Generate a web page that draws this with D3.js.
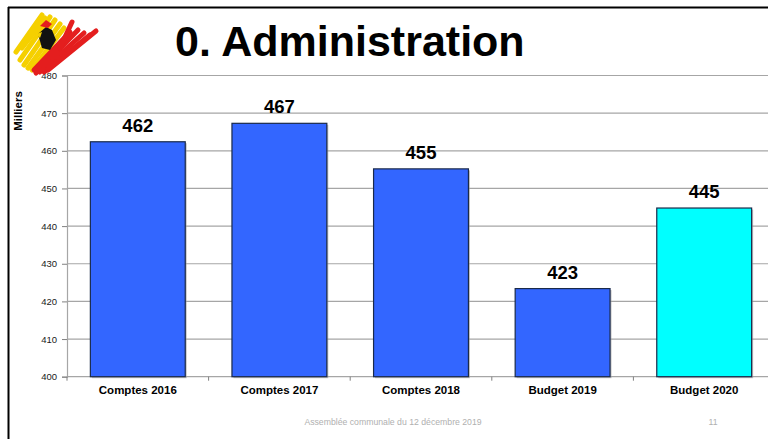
<!DOCTYPE html>
<html><head><meta charset="utf-8">
<script src="https://cdn.jsdelivr.net/npm/d3@7"></script>
<style>body{margin:0;background:#fff;}svg{display:block;font-family:Arial,"Liberation Sans",sans-serif;}</style>
</head><body>
<svg id="c" width="768" height="439"></svg>
<script>
const categories = ["Comptes 2016","Comptes 2017","Comptes 2018","Budget 2019","Budget 2020"];
const values = [462.4, 467.3, 455.2, 423.4, 444.8];
const valueLabels = ["462","467","455","423","445"];
const barColors = ["#3366FF","#3366FF","#3366FF","#3366FF","#00FFFF"];
const yTicks = [400,410,420,430,440,450,460,470,480];

(function(){
const svg = d3.select("#c");
// frame
svg.append("line").attr("x1",8).attr("x2",768).attr("y1",7.5).attr("y2",7.5).attr("stroke","#000").attr("stroke-width",2);
svg.append("line").attr("x1",8.5).attr("x2",8.5).attr("y1",7).attr("y2",439).attr("stroke","#000").attr("stroke-width",2);

const mLeft = 67, mTop = 75.5, mBottom = 376.7, mRight = 775;
const x = d3.scaleBand().domain(categories).range([mLeft,mRight]).paddingInner(0.33).paddingOuter(0.165);
const xb = d3.scaleBand().domain(categories).range([mLeft,mRight]);
const y = d3.scaleLinear().domain([400,480]).range([mBottom,mTop]);

// gridlines
svg.append("g").selectAll("line").data(yTicks.slice(1)).join("line")
  .attr("x1",mLeft).attr("x2",768).attr("y1",d=>y(d)).attr("y2",d=>y(d))
  .attr("stroke","#a6a6a6").attr("stroke-width",1.2);

// y axis
const ya = svg.append("g").attr("transform",`translate(${mLeft},0)`)
  .call(d3.axisLeft(y).tickValues(yTicks).tickSize(5).tickPadding(5));
ya.select(".domain").attr("stroke","#a6a6a6").attr("stroke-width",1.2);
ya.selectAll(".tick line").attr("stroke","#808080");
ya.selectAll("text").attr("font-size",9.5).attr("fill","#1a1a1a").attr("font-family","Arial,'Liberation Sans',sans-serif");

// x axis
svg.append("line").attr("x1",mLeft).attr("x2",768).attr("y1",mBottom).attr("y2",mBottom).attr("stroke","#a6a6a6").attr("stroke-width",1.2);
svg.append("g").selectAll("line").data(categories).join("line")
  .attr("x1",d=>xb(d)).attr("x2",d=>xb(d)).attr("y1",mBottom).attr("y2",mBottom+4).attr("stroke","#808080");

// bars (shadow + bar)
svg.append("g").selectAll("rect").data(categories).join("rect")
  .attr("x",d=>x(d)+1.5).attr("y",(d,i)=>y(values[i])+1.5).attr("width",x.bandwidth()).attr("height",(d,i)=>mBottom-y(values[i]))
  .attr("fill","#9a9a9a").attr("opacity",0.6);
svg.append("g").selectAll("rect").data(categories).join("rect")
  .attr("x",d=>x(d)).attr("y",(d,i)=>y(values[i])).attr("width",x.bandwidth()).attr("height",(d,i)=>mBottom-y(values[i]))
  .attr("fill",(d,i)=>barColors[i]).attr("stroke","#1a2a4a").attr("stroke-width",1.2);

// value labels
svg.append("g").selectAll("text").data(categories).join("text")
  .attr("x",d=>x(d)+x.bandwidth()/2).attr("y",(d,i)=>y(values[i])-10)
  .attr("text-anchor","middle").attr("font-weight","bold").attr("font-size",18.5).attr("fill","#000")
  .text((d,i)=>valueLabels[i]);

// category labels
svg.append("g").selectAll("text").data(categories).join("text")
  .attr("x",d=>x(d)+x.bandwidth()/2).attr("y",394)
  .attr("text-anchor","middle").attr("font-weight","bold").attr("font-size",11.5).attr("fill","#000")
  .text(d=>d);

// axis title
svg.append("text").attr("transform","translate(22,111) rotate(-90)").attr("text-anchor","middle")
  .attr("font-weight","bold").attr("font-size",11.5).text("Milliers");

// title
svg.append("text").attr("x",175).attr("y",56).attr("font-weight","bold").attr("font-size",43).attr("fill","#000").text("0. Administration");

// footer
svg.append("text").attr("x",393).attr("y",425).attr("text-anchor","middle").attr("font-size",8.7).attr("fill","#b0b0b0").text("Assemblée communale du 12 décembre 2019");
svg.append("text").attr("x",713).attr("y",425).attr("text-anchor","middle").attr("font-size",8.7).attr("fill","#b0b0b0").text("11");

// logo (decorative)
const logo = svg.append("g");
const yellow = [[[16,52],[42,15]],[[20,60],[50,17]],[[24,65],[55,20]],[[28,68],[60,24]],[[32,70],[64,28]],[[22,48],[45,18]]];
yellow.forEach(s=>logo.append("line").attr("x1",s[0][0]).attr("y1",s[0][1]).attr("x2",s[1][0]).attr("y2",s[1][1])
  .attr("stroke","#f5d000").attr("stroke-width",5).attr("stroke-linecap","round"));
const red = [[[34,70],[70,32]],[[36,73],[78,30]],[[40,72],[84,33]],[[44,72],[90,35]],[[48,70],[96,31]],[[60,48],[72,22]]];
red.forEach(s=>logo.append("line").attr("x1",s[0][0]).attr("y1",s[0][1]).attr("x2",s[1][0]).attr("y2",s[1][1])
  .attr("stroke","#e41e1e").attr("stroke-width",5).attr("stroke-linecap","round"));
logo.append("path").attr("d","M38,34 L46,27 L52,30 L56,40 L50,50 L42,48 Z").attr("fill","#111");
logo.append("path").attr("d","M40,26 L46,20 L52,24 L48,28 Z").attr("fill","#e41e1e");
logo.append("path").attr("d","M36,34 L42,32 L40,38 Z").attr("fill","#f5d000");
})();
</script>
</body></html>
